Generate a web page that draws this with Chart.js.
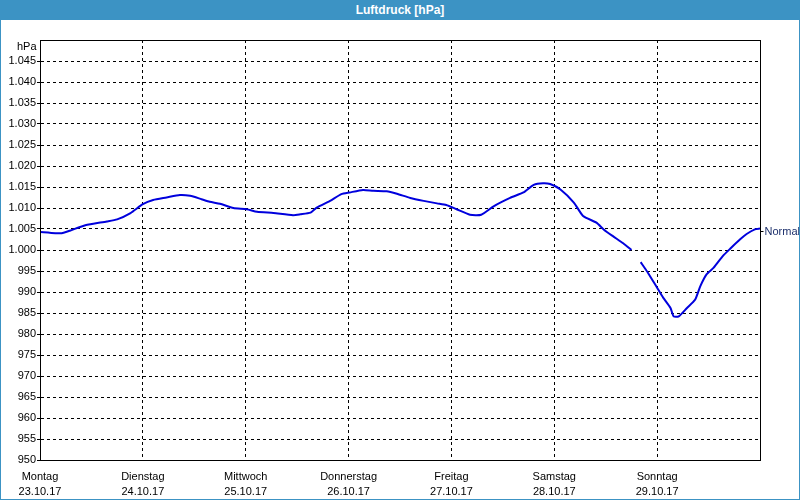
<!DOCTYPE html>
<html>
<head>
<meta charset="utf-8">
<script src="https://cdn.jsdelivr.net/npm/chart.js@4/dist/chart.umd.min.js"></script>
<style>
    html, body { margin: 0; padding: 0; background: #fff; }
    #frame {
        position: relative;
        width: 800px;
        height: 500px;
        box-sizing: border-box;
        border: 1px solid #3c93c4;
        border-top: none;
        overflow: hidden;
    }
    #titleBar {
        position: absolute;
        left: 0; top: 0;
        width: 100%;
        height: 20px;
        background: #3c93c4;
        color: #fff;
        font: bold 12px "Liberation Sans", Arial, sans-serif;
        line-height: 20px;
        text-align: center;
        z-index: 2;
    }
    #chartWrap {
        position: absolute;
        left: -1px; top: 0;
        width: 800px;
        height: 500px;
    }
</style>
</head>
<body>
<div id="frame">
    <div id="titleBar">Luftdruck [hPa]</div>
    <div id="chartWrap"><canvas id="pressureChart" width="800" height="500"></canvas></div>
</div>
<script>
// Tick labels for the days
const dayNames = ['Montag', 'Dienstag', 'Mittwoch', 'Donnerstag', 'Freitag', 'Samstag', 'Sonntag'];
const dayDates = ['23.10.17', '24.10.17', '25.10.17', '26.10.17', '27.10.17', '28.10.17', '29.10.17'];

// Time in days since Monday 00:00
const dayOffsets = [
    0.00, 0.15, 0.21, 0.29, 0.44, 0.65, 0.75, 0.88, 1.00, 1.10,
    1.23, 1.36, 1.46, 1.57, 1.65, 1.75, 1.88, 2.01, 2.11, 2.27,
    2.46, 2.53, 2.63, 2.69, 2.82, 2.93, 3.01, 3.14, 3.24, 3.37,
    3.47, 3.60, 3.73, 3.86, 3.95, 4.05, 4.18, 4.29, 4.41, 4.57,
    4.70, 4.80, 4.89, 4.96, 5.06, 5.19, 5.28, 5.41, 5.48, 5.57,
    5.67, 5.75, 5.80, 5.84, 5.91, 6.00, 6.06, 6.13, 6.16, 6.21,
    6.29, 6.37, 6.42, 6.48, 6.55, 6.64, 6.71, 6.81, 6.87, 6.95,
    7.00
];

// Air pressure in hPa (null = missing data)
const pressure = [
    1004.3, 1004.0, 1004.0, 1004.6, 1005.9, 1006.8, 1007.3, 1008.8, 1010.9, 1011.9,
    1012.5, 1013.1, 1012.9, 1012.1, 1011.5, 1011.0, 1010.0, 1009.7, 1009.1, 1008.8,
    1008.3, 1008.5, 1008.9, 1010.1, 1011.7, 1013.3, 1013.7, 1014.3, 1014.1, 1014.0,
    1013.4, 1012.4, 1011.7, 1011.1, 1010.7, 1009.7, 1008.4, 1008.4, 1010.4, 1012.4,
    1013.7, 1015.5, 1015.9, 1015.7, 1014.4, 1011.3, 1008.1, 1006.5, 1004.9, 1003.3,
    1001.6, 1000.0, null, 997.1, 994.6, 991.0, 988.6, 986.2, 984.2, 984.2,
    986.2, 988.2, 991.4, 994.2, 995.8, 998.6, 1000.3, 1002.6, 1003.8, 1004.9,
    1005.1
];

const normalValue = 1004.5;
const yMin = 950;
const yMax = 1050;

const fontFamily = '"Liberation Sans", Arial, sans-serif';

// German number format: 1045 -> 1.045
function formatHpa(v) {
    if (v >= 1000) {
        const s = String(v);
        return s.slice(0, 1) + '.' + s.slice(1);
    }
    return String(v);
}

// Draw solid frame around the plot, the unit label and the "Normal" marker
const framePlugin = {
    id: 'framePlugin',
    afterDraw(chart) {
        const ctx = chart.ctx;
        const area = chart.chartArea;
        const yScale = chart.scales.y;

        ctx.save();
        ctx.strokeStyle = '#000';
        ctx.lineWidth = 1;
        ctx.setLineDash([]);
        const l = Math.round(area.left) + 0.5;
        const t = Math.round(area.top) + 0.5;
        const r = Math.round(area.right) + 0.5;
        const b = Math.round(area.bottom) + 0.5;
        ctx.strokeRect(l, t, r - l, b - t);

        ctx.font = '11px ' + fontFamily;
        ctx.textBaseline = 'middle';

        // unit label above the top tick
        ctx.fillStyle = '#000';
        ctx.textAlign = 'right';
        ctx.fillText('hPa', l - 4, t + 6);

        // Normal marker
        const ny = Math.round(yScale.getPixelForValue(normalValue)) + 0.5;
        ctx.beginPath();
        ctx.moveTo(r, ny);
        ctx.lineTo(r + 3, ny);
        ctx.stroke();
        ctx.fillStyle = '#1c2f6b';
        ctx.textAlign = 'left';
        ctx.fillText('Normal', r + 4, ny);
        ctx.restore();
    }
};

const bgPlugin = {
    id: 'bgPlugin',
    beforeDraw(chart) {
        const ctx = chart.ctx;
        ctx.save();
        ctx.fillStyle = '#fff';
        ctx.fillRect(0, 0, chart.width, chart.height);
        ctx.restore();
    }
};

const points = dayOffsets.map((d, i) => ({ x: d, y: pressure[i] }));

new Chart(document.getElementById('pressureChart'), {
    type: 'line',
    data: {
        datasets: [{
            data: points,
            borderColor: '#0000dd',
            borderWidth: 2,
            pointRadius: 0,
            tension: 0.2,
            spanGaps: false
        }]
    },
    options: {
        responsive: false,
        animation: false,
        layout: { padding: { top: 40, right: 40, left: 0, bottom: 0 } },
        plugins: {
            legend: { display: false },
            tooltip: { enabled: false }
        },
        scales: {
            x: {
                type: 'linear',
                min: 0,
                max: 7,
                afterFit(scale) { scale.height = 40; },
                afterBuildTicks(scale) {
                    scale.ticks = dayNames.map((n, i) => ({ value: i }));
                },
                grid: {
                    color: '#000',
                    lineWidth: 1,
                    drawTicks: false
                },
                border: { display: true, color: '#000', dash: [3, 3] },
                ticks: {
                    autoSkip: false,
                    maxRotation: 0,
                    padding: 9,
                    color: '#000',
                    font: { family: fontFamily, size: 11, lineHeight: 1.4 },
                    callback: (v) => [dayNames[v], dayDates[v]]
                }
            },
            y: {
                min: yMin,
                max: yMax,
                afterFit(scale) { scale.width = 40; },
                grid: {
                    color: '#000',
                    lineWidth: 1,
                    tickLength: 3,
                    tickColor: (c) => c.tick && c.tick.value === yMax ? 'rgba(0,0,0,0)' : '#000'
                },
                border: { display: true, color: '#000', dash: [3, 3] },
                ticks: {
                    stepSize: 5,
                    padding: 1,
                    color: '#000',
                    font: { family: fontFamily, size: 11 },
                    callback: (v) => v === yMax ? '' : formatHpa(v)
                }
            }
        }
    },
    plugins: [bgPlugin, framePlugin]
});
</script>
</body>
</html>
